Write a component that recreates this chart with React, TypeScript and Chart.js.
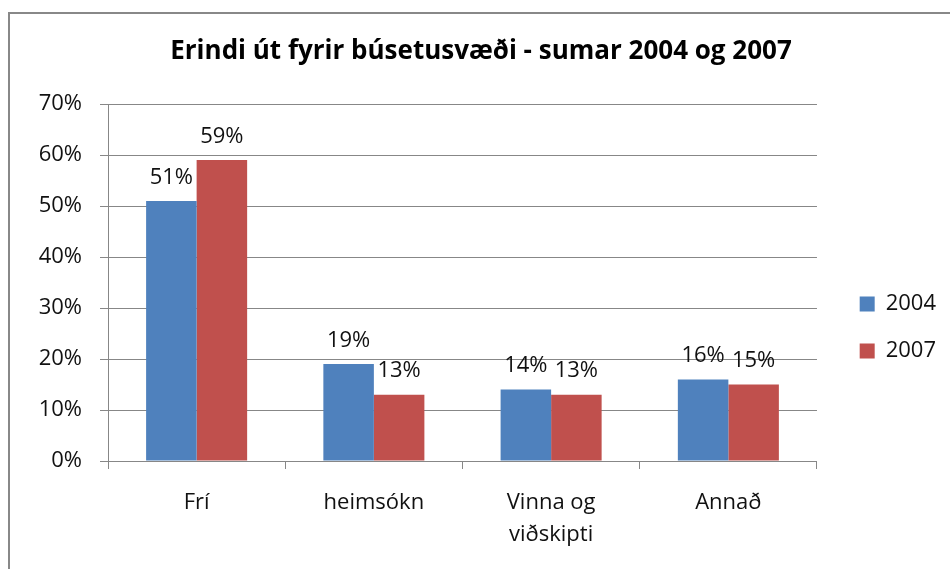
import React, { useEffect, useRef } from "react";
import { Chart, registerables } from "chart.js";

Chart.register(...registerables);

const titleText = "Erindi út fyrir búsetusvæði - sumar 2004 og 2007";
const categories: (string | string[])[] = ["Frí", "heimsókn", ["Vinna og", "viðskipti"], "Annað"];
const seriesNames = ["2004", "2007"];
const values2004 = [51, 19, 14, 16];
const values2007 = [59, 13, 13, 15];
const seriesColors = ["#4F81BD", "#C0504D"];
const yMin = 0;
const yMax = 70;
const yStep = 10;

const FONT = '"Open Sans", "DejaVu Sans", sans-serif';
const TEXT = "#111111";
const GRID = "#878787";

const dataLabelPlugin = {
  id: "dataLabels",
  afterDatasetsDraw(chart: any) {
    const ctx = chart.ctx;
    ctx.save();
    ctx.font = `22px ${FONT}`;
    ctx.fillStyle = TEXT;
    ctx.textAlign = "center";
    ctx.textBaseline = "middle";
    chart.data.datasets.forEach((ds: any, i: number) => {
      const meta = chart.getDatasetMeta(i);
      meta.data.forEach((bar: any, j: number) => {
        ctx.fillText(ds.data[j] + "%", bar.x, bar.y - 23.5);
      });
    });
    ctx.restore();
  },
};

export default function App() {
  const ref = useRef<HTMLCanvasElement | null>(null);

  useEffect(() => {
    if (!ref.current) return;
    const chart = new Chart(ref.current, {
      type: "bar",
      data: {
        labels: categories as any,
        datasets: [
          { label: seriesNames[0], data: values2004, backgroundColor: seriesColors[0], borderWidth: 0 },
          { label: seriesNames[1], data: values2007, backgroundColor: seriesColors[1], borderWidth: 0 },
        ],
      },
      options: {
        animation: false,
        responsive: false,
        devicePixelRatio: 1,
        layout: { padding: { left: 6, right: 6, top: 0, bottom: 0 } },
        datasets: { bar: { categoryPercentage: 0.57, barPercentage: 1 } },
        plugins: {
          title: {
            display: true,
            text: titleText,
            color: "#000",
            font: { family: FONT, size: 26, weight: "bold" },
            padding: { top: 22.4, bottom: 36.4 },
          },
          legend: {
            display: true,
            position: "right",
            labels: {
              color: TEXT,
              font: { family: FONT, size: 22 },
              boxWidth: 15,
              boxHeight: 15,
              padding: 25,
            },
          },
          tooltip: { enabled: false },
        },
        scales: {
          x: {
            grid: { display: true, drawOnChartArea: false, drawTicks: true, tickLength: 8, color: GRID, offset: true },
            border: { display: true, color: GRID },
            ticks: { color: TEXT, font: { family: FONT, size: 22, lineHeight: 1.45 }, padding: 18, maxRotation: 0, autoSkip: false },
            afterFit: (s: any) => {
              s.height = 180;
            },
          },
          y: {
            min: yMin,
            max: yMax,
            grid: { color: GRID, tickLength: 8, drawTicks: true },
            border: { display: true, color: GRID },
            ticks: {
              stepSize: yStep,
              color: TEXT,
              font: { family: FONT, size: 22 },
              padding: 18,
              callback: (v: any) => v + "%",
            },
            afterFit: (s: any) => {
              s.width = 92;
            },
          },
          gap: {
            type: "linear",
            position: "right",
            display: true,
            grid: { display: false, drawTicks: false },
            border: { display: false },
            ticks: { display: false },
            afterFit: (s: any) => {
              s.width = 17.7;
            },
          },
        },
      } as any,
      plugins: [dataLabelPlugin],
    });
    return () => chart.destroy();
  }, []);

  return (
    <div style={{ position: "fixed", left: 0, top: 0, width: 950, height: 569, overflow: "hidden", background: "#fff" }}>
      <div
        style={{
          position: "absolute",
          left: 8,
          top: 12,
          width: 960,
          height: 640,
          border: "2px solid #888888",
          background: "#fff",
        }}
      >
        <canvas ref={ref} width={942} height={627} style={{ display: "block", width: 942, height: 627 }} />
      </div>
    </div>
  );
}
